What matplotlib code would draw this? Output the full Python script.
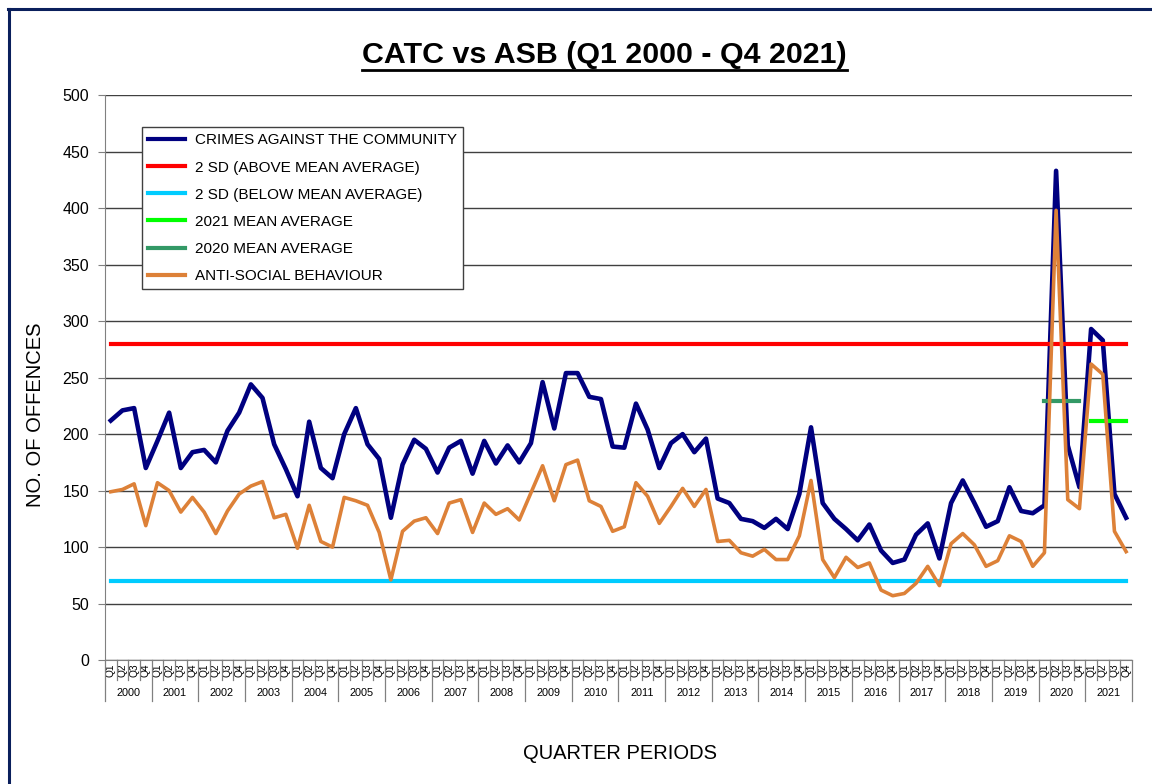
import numpy as np
import matplotlib
matplotlib.use("Agg")
import matplotlib.pyplot as plt
import matplotlib.transforms as mtransforms
from matplotlib.lines import Line2D

plt.rcParams['font.family'] = ['Liberation Sans', 'DejaVu Sans']

years = list(range(2000, 2022))
quarters = ['Q1', 'Q2', 'Q3', 'Q4']

# crimes against the community, one row per year (Q1..Q4)
catc = [212, 221, 223, 170,
        194, 219, 170, 184,
        186, 175, 203, 219,
        244, 232, 191, 169,
        145, 211, 170, 161,
        200, 223, 191, 178,
        126, 173, 195, 187,
        166, 188, 194, 165,
        194, 174, 190, 175,
        192, 246, 205, 254,
        254, 233, 231, 189,
        188, 227, 204, 170,
        192, 200, 184, 196,
        143, 139, 125, 123,
        117, 125, 116, 147,
        206, 139, 125, 116,
        106, 120, 97, 86,
        89, 111, 121, 90,
        139, 159, 139, 118,
        123, 153, 132, 130,
        137, 433, 190, 153,
        293, 283, 147, 126]

# anti-social behaviour
asb = [149, 151, 156, 119,
       157, 150, 131, 144,
       131, 112, 132, 147,
       154, 158, 126, 129,
       99, 137, 105, 100,
       144, 141, 137, 113,
       71, 114, 123, 126,
       112, 139, 142, 113,
       139, 129, 134, 124,
       148, 172, 141, 173,
       177, 141, 136, 114,
       118, 157, 145, 121,
       136, 152, 136, 151,
       105, 106, 95, 92,
       98, 89, 89, 110,
       159, 89, 73, 91,
       82, 86, 62, 57,
       59, 68, 83, 66,
       103, 112, 102, 83,
       88, 110, 105, 83,
       95, 398, 142, 134,
       262, 253, 114, 96]

sd_above = 280
sd_below = 70
mean_2020 = 229
mean_2021 = 212

n = len(catc)
x = np.arange(n)

fig = plt.figure(figsize=(11.52, 7.84), dpi=100)
ax = fig.add_axes([0.0911, 0.158, 0.8915, 0.7207])

ax.plot(x, catc, color='#000080', lw=3.3, label='CRIMES AGAINST THE COMMUNITY', zorder=3)
ax.plot(x, [sd_above] * n, color='#ff0000', lw=3.0, label='2 SD (ABOVE MEAN AVERAGE)', zorder=3)
ax.plot(x, [sd_below] * n, color='#00ccff', lw=3.0, label='2 SD (BELOW MEAN AVERAGE)', zorder=3)
i21 = years.index(2021) * 4
ax.plot(x[i21:i21 + 4], [mean_2021] * 4, color='#00ff00', lw=3.0, label='2021 MEAN AVERAGE', zorder=3)
i20 = years.index(2020) * 4
ax.plot(x[i20:i20 + 4], [mean_2020] * 4, color='#339966', lw=3.0, label='2020 MEAN AVERAGE', zorder=3)
ax.plot(x, asb, color='#dd8138', lw=2.6, label='ANTI-SOCIAL BEHAVIOUR', zorder=4)

ax.set_xlim(-0.5, n - 0.5)
ax.set_ylim(0, 500)
ax.set_yticks(np.arange(0, 501, 50))
ax.yaxis.grid(True, color='#404040', lw=1.0)
ax.set_axisbelow(True)
ax.tick_params(axis='y', labelsize=11.5, length=5, color='#808080', pad=6.5)
for s in ['top', 'right']:
    ax.spines[s].set_visible(False)
ax.spines['left'].set_color('#808080')
ax.spines['bottom'].set_color('#808080')

# two-level category axis
ax.set_xticks(x)
ax.set_xticklabels(quarters * len(years), rotation=90, fontsize=7.3)
ax.tick_params(axis='x', length=0, pad=2.5)
trans = mtransforms.blended_transform_factory(ax.transData, ax.transAxes)
for k in range(n + 1):
    y_end = -0.0726 if k % 4 == 0 else -0.0354
    ax.plot([k - 0.5, k - 0.5], [0, y_end], transform=trans, color='#808080',
            lw=0.9, clip_on=False)
for j, yr in enumerate(years):
    ax.text(4 * j + 1.5, -0.058, str(yr), transform=trans, ha='center', va='center',
            fontsize=7.8)

leg = ax.legend(loc='upper left', bbox_to_anchor=(0.036, 0.943), borderaxespad=0,
                fontsize=11, fancybox=False, framealpha=1, edgecolor='#404040',
                handlelength=2.4, handletextpad=0.65, labelspacing=0.86, borderpad=0.4)
leg.get_frame().set_linewidth(1.0)
for h in leg.get_lines():
    h.set_linewidth(3.0)

fig.text(0.0304, 0.4707, 'NO. OF OFFENCES', rotation=90, ha='center', va='center', fontsize=14.5)
fig.text(0.538, 0.0395, 'QUARTER PERIODS', ha='center', va='center', fontsize=14.5)
title = fig.text(0.525, 1 - 63 / 784, 'CATC vs ASB (Q1 2000 - Q4 2021)', ha='center',
                 va='baseline', fontsize=21.9, fontweight='bold')

# underline the title
fig.canvas.draw()
bb = title.get_window_extent(renderer=fig.canvas.get_renderer())
W, H = fig.bbox.width, fig.bbox.height
fig.add_artist(Line2D([bb.x0 / W, bb.x1 / W], [1 - 69.5 / 784] * 2, color='black', lw=2.0))

# dark blue frame round the chart
fig.add_artist(Line2D([8 / 1152, 1], [1 - 8.5 / 784] * 2, color='#0a1f5c', lw=2.2))
fig.add_artist(Line2D([8.5 / 1152] * 2, [0, 1 - 8.5 / 784], color='#0a1f5c', lw=2.2))

fig.savefig('out.png', dpi=100)
